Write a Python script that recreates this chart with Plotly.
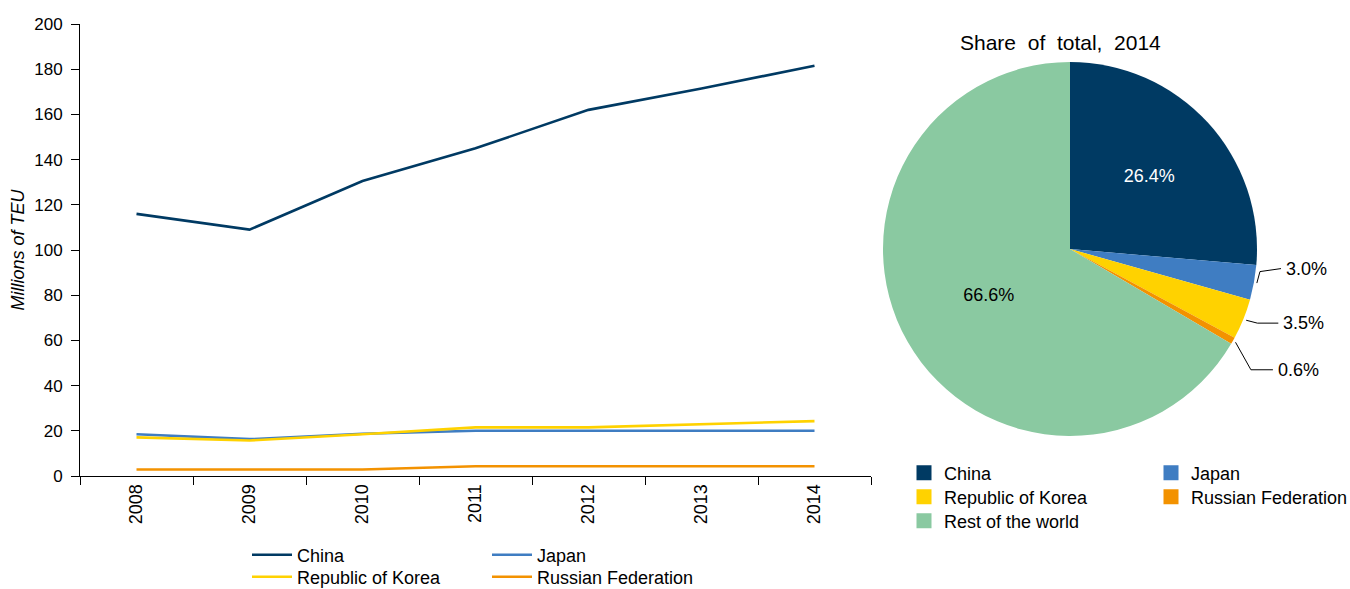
import math
import plotly.graph_objects as go

# ---- data -------------------------------------------------------------
years = ["2008", "2009", "2010", "2011", "2012", "2013", "2014"]
china = [116.0, 109.0, 130.5, 145.0, 162.0, 171.5, 181.5]
japan = [18.5, 16.3, 18.7, 20.0, 20.0, 20.0, 20.0]
korea = [17.1, 15.7, 18.5, 21.5, 21.5, 22.8, 24.3]
russia = [2.9, 2.9, 2.9, 4.3, 4.3, 4.3, 4.3]

share_labels = ["China", "Japan", "Republic of Korea", "Russian Federation", "Rest of the world"]
share_2014 = [26.4, 3.0, 3.5, 0.6, 66.6]

y_ticks = [0, 20, 40, 60, 80, 100, 120, 140, 160, 180, 200]

# ---- styling ----------------------------------------------------------
W, H = 1350, 589
FONT = "Liberation Sans, Arial, sans-serif"
COL = {
    "China": "#003A63",
    "Japan": "#3F7DC2",
    "Republic of Korea": "#FFD200",
    "Russian Federation": "#F39200",
    "Rest of the world": "#8AC9A1",
}


def px_x(x):
    return x / W


def px_y(y):
    return 1 - y / H


fig = go.Figure()

# line chart; each legend row is its own horizontal legend
series = [
    ("China", china, "legend"),
    ("Japan", japan, "legend"),
    ("Republic of Korea", korea, "legend2"),
    ("Russian Federation", russia, "legend2"),
]
for name, vals, leg in series:
    fig.add_trace(go.Scatter(
        x=years, y=vals, name=name, mode="lines",
        line=dict(color=COL[name], width=2.6),
        legend=leg, xaxis="x", yaxis="y",
    ))

# pie of 2014 shares
pie_cx, pie_cy, pie_r = 1070, 249, 187
fig.add_trace(go.Pie(
    labels=share_labels, values=share_2014, sort=False,
    direction="clockwise", rotation=0,
    marker=dict(colors=[COL[n] for n in share_labels], line=dict(width=0)),
    texttemplate="%{value:.1f}%",
    textposition=["inside", "none", "none", "none", "inside"],
    insidetextorientation="horizontal",
    insidetextfont=dict(family=FONT, size=18,
                        color=["white", "black", "black", "black", "black"]),
    domain=dict(x=[px_x(pie_cx - pie_r), px_x(pie_cx + pie_r)],
                y=[px_y(pie_cy + pie_r), px_y(pie_cy - pie_r)]),
    showlegend=False, hoverinfo="label+percent",
))

# legend entries for the pie, laid out in rows of two
pie_leg = {"China": "legend3", "Japan": "legend3",
           "Republic of Korea": "legend4", "Russian Federation": "legend4",
           "Rest of the world": "legend5"}
for name in share_labels:
    fig.add_trace(go.Scatter(
        x=[None], y=[None], mode="markers", name=name,
        marker=dict(symbol="square", size=15, color=COL[name]),
        legend=pie_leg[name], xaxis="x", yaxis="y", hoverinfo="skip",
    ))

# outside labels for the small slices, with elbow leader lines
label_offsets = {  # (elbow dx, dy), (end dx, dy) in px from the slice edge
    "Japan": ((6, -11), (27, -14)),
    "Republic of Korea": ((14, 4), (35, 4)),
    "Russian Federation": ((18, 29), (40, 29)),
}
total = sum(share_2014)
cum = 0.0
shapes, annotations = [], []
for name, v in zip(share_labels, share_2014):
    mid = (cum + v / 2) / total * 2 * math.pi
    cum += v
    if name not in label_offsets:
        continue
    ex = pie_cx + pie_r * math.sin(mid)
    ey = pie_cy - pie_r * math.cos(mid)
    sx = pie_cx + (pie_r + 3) * math.sin(mid)
    sy = pie_cy - (pie_r + 3) * math.cos(mid)
    (bx, by), (tx, ty) = label_offsets[name]
    path = "M{:.4f},{:.4f} L{:.4f},{:.4f} L{:.4f},{:.4f}".format(
        px_x(sx), px_y(sy), px_x(ex + bx), px_y(ey + by), px_x(ex + tx), px_y(ey + ty))
    shapes.append(dict(type="path", path=path, xref="paper", yref="paper",
                       line=dict(color="black", width=1)))
    annotations.append(dict(
        x=px_x(ex + tx + 3), y=px_y(ey + ty), xref="paper", yref="paper",
        text="{:.1f}%".format(v), showarrow=False, xanchor="left", yanchor="middle",
        font=dict(family=FONT, size=18, color="black"),
    ))

annotations.append(dict(
    x=px_x(1060), y=px_y(42), xref="paper", yref="paper",
    text="Share\u00a0 of\u00a0 total,\u00a0 2014", showarrow=False,
    xanchor="center", yanchor="middle",
    font=dict(family=FONT, size=21, color="black"),
))


def row_legend(x, y, entry, itemwidth=30):
    return dict(
        x=px_x(x), y=px_y(y), xanchor="left", yanchor="middle",
        orientation="h", entrywidth=entry, entrywidthmode="pixels",
        itemwidth=itemwidth,
        font=dict(family=FONT, size=18, color="black"),
        bgcolor="rgba(0,0,0,0)", borderwidth=0,
    )


line_entry = 240 - 55
pie_entry = 247 - 45

fig.update_layout(
    width=W, height=H,
    margin=dict(l=0, r=0, t=0, b=0, autoexpand=False),
    paper_bgcolor="white", plot_bgcolor="white",
    font=dict(family=FONT, size=18, color="black"),
    xaxis=dict(
        type="category", domain=[px_x(80), px_x(871)], range=[-0.5, 6.5],
        showline=True, linecolor="black", linewidth=1,
        ticks="outside", tickson="boundaries", ticklen=8, tickcolor="black",
        tickangle=-90, tickfont=dict(family=FONT, size=18, color="black"),
        showgrid=False, zeroline=False, anchor="y", automargin=False,
    ),
    yaxis=dict(
        domain=[px_y(476), px_y(24)], range=[0, 200],
        tickvals=y_ticks, showline=True, linecolor="black", linewidth=1,
        ticks="outside", ticklen=8, tickcolor="black", ticklabelstandoff=5,
        tickfont=dict(family=FONT, size=17, color="black"),
        showgrid=False, zeroline=False, anchor="x", automargin=False,
        title=dict(text="Millions of TEU", standoff=4,
                   font=dict(family=FONT, size=18, style="italic", color="black")),
    ),
    legend=row_legend(247, 555, line_entry, itemwidth=40),
    legend2=row_legend(247, 577, line_entry, itemwidth=40),
    legend3=row_legend(904, 473, pie_entry),
    legend4=row_legend(904, 497, pie_entry),
    legend5=row_legend(904, 521, pie_entry),
    shapes=shapes,
    annotations=annotations,
    showlegend=True,
)

fig.write_html("out.html")
